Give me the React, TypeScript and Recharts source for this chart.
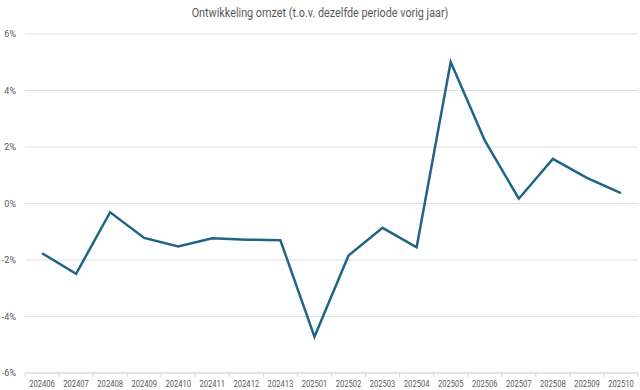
import React from 'react';
import { LineChart, Line, XAxis, YAxis, CartesianGrid } from 'recharts';

// perioden (jjjjmm) en omzetontwikkeling in %
const periods = [
  '202406', '202407', '202408', '202409', '202410', '202411', '202412', '202413', '202501',
  '202502', '202503', '202504', '202505', '202506', '202507', '202508', '202509', '202510',
];
const growth = [
  -1.76, -2.49, -0.31, -1.22, -1.52, -1.23, -1.28, -1.3, -4.72,
  -1.84, -0.86, -1.55, 5.01, 2.23, 0.17, 1.58, 0.91, 0.37,
];
const yTicks = [-6, -4, -2, 0, 2, 4, 6];

const data = periods.map((p, i) => ({ period: p, value: growth[i] }));

const W = 640;
const H = 390;
const PLOT_LEFT = 25;
const PLOT_RIGHT = 638;
const BAND = (PLOT_RIGHT - PLOT_LEFT) / periods.length;
const FONT = 'Roboto, sans-serif';

const CategoryTick = (props: any) => {
  const { x, y, payload, index } = props;
  const last = index === periods.length - 1;
  return (
    <g>
      <line x1={x - BAND / 2} x2={x - BAND / 2} y1={y} y2={y + 4} stroke="#d9d9d9" />
      {last && <line x1={x + BAND / 2} x2={x + BAND / 2} y1={y} y2={y + 4} stroke="#d9d9d9" />}
      {/* smalle letter zoals in het origineel */}
      <text
        transform={`translate(${x},${y + 14}) scale(0.8,1)`}
        textAnchor="middle"
        fontSize={9.5}
        fill="#595959"
        fontFamily={FONT}
      >
        {payload.value}
      </text>
    </g>
  );
};

const App: React.FC = () => {
  return (
    <div style={{ position: 'absolute', left: 0, top: 0, width: W, height: H, background: '#fff' }}>
      <div
        style={{
          position: 'absolute', left: 0, top: 6, width: W, textAlign: 'center',
          fontFamily: FONT, fontSize: 12, color: '#595959',
          transform: 'scaleX(0.9)', transformOrigin: 'center',
        }}
      >
        Ontwikkeling omzet (t.o.v. dezelfde periode vorig jaar)
      </div>
      <LineChart width={W} height={H} data={data} margin={{ top: 34, right: W - PLOT_RIGHT, bottom: 0, left: 0 }}>
        <CartesianGrid vertical={false} stroke="#dedede" />
        <XAxis
          dataKey="period"
          interval={0}
          height={17}
          tickSize={0}
          tickMargin={0}
          padding={{ left: BAND / 2, right: BAND / 2 }}
          axisLine={{ stroke: '#d9d9d9' }}
          tickLine={false}
          tick={<CategoryTick />}
        />
        <YAxis
          width={PLOT_LEFT}
          domain={[-6, 6]}
          ticks={yTicks}
          axisLine={false}
          tickLine={false}
          tickMargin={3}
          tickFormatter={(v) => `${v}%`}
          tick={{ fontSize: 9, fill: '#595959', fontFamily: FONT }}
        />
        <Line
          type="linear"
          dataKey="value"
          stroke="#1f6585"
          strokeWidth={2.5}
          dot={false}
          activeDot={false}
          isAnimationActive={false}
        />
      </LineChart>
    </div>
  );
};

export default App;
